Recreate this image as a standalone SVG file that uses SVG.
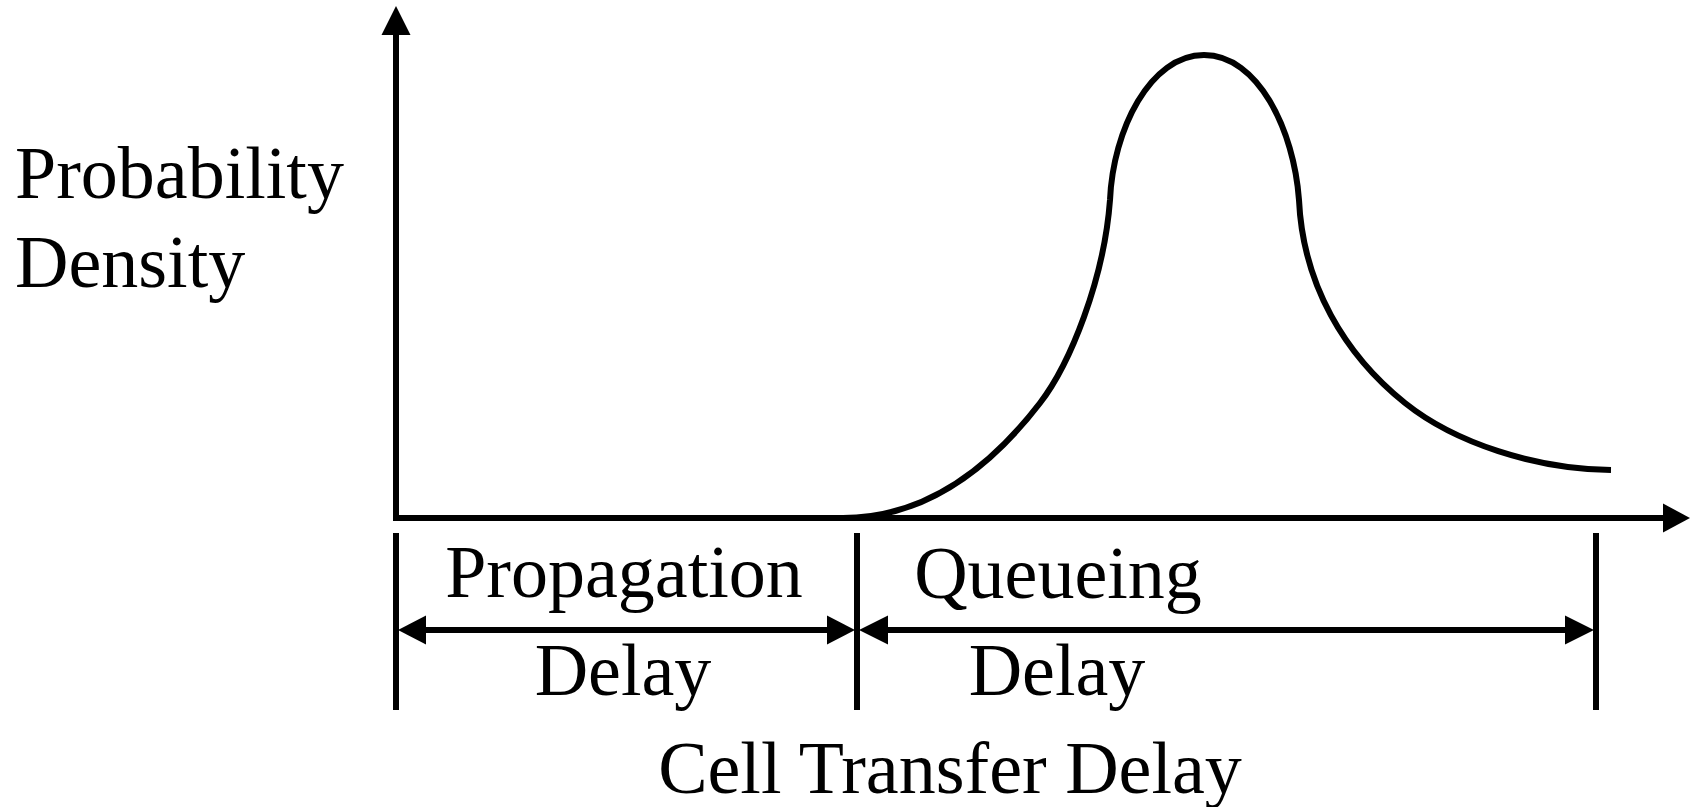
<svg xmlns="http://www.w3.org/2000/svg" width="1692" height="807" viewBox="0 0 1692 807">
  <style>
    .lbl { font-family: "Liberation Serif", "Times New Roman", serif; font-size: 74px; fill: #000; }
    .mid { text-anchor: middle; }
    .ln { fill: none; stroke: #000; stroke-width: 6; }
    .head { fill: #000; stroke: none; }
  </style>
  <rect width="1692" height="807" fill="#fff"/>

  <!-- axes -->
  <g id="axes">
    <path class="ln" d="M396,35 V518 H1663" stroke-linejoin="miter"/>
    <polygon class="head" points="396,6 381.5,35 410.5,35"/>
    <polygon class="head" points="1690,518 1663,503.5 1663,532.5"/>
  </g>

  <!-- density curve -->
  <g id="curve">
    <path class="ln" d="M843,518 C935,518 1000,455 1040,403 C1070,364 1104,280 1110,200 C1113,130 1150,55 1204,55 C1258,55 1294,130 1299,200 C1303,285 1345,355 1405,403 C1455,443 1535,469 1611,470"/>
  </g>

  <!-- axis labels -->
  <g id="y-label">
    <text class="lbl" x="15" y="198">Probability</text>
    <text class="lbl" x="15" y="287">Density</text>
  </g>
  <g id="x-label">
    <text class="lbl mid" x="950" y="793">Cell Transfer Delay</text>
  </g>

  <!-- interval markers -->
  <g id="ticks">
    <line class="ln" x1="396" y1="533" x2="396" y2="710"/>
    <line class="ln" x1="857" y1="533" x2="857" y2="710"/>
    <line class="ln" x1="1596" y1="533" x2="1596" y2="710"/>
  </g>

  <g id="connectors">
    <line class="ln" x1="420" y1="630" x2="834" y2="630"/>
    <polygon class="head" points="398,630 426,615.5 426,644.5"/>
    <polygon class="head" points="855,630 827,615.5 827,644.5"/>
    <line class="ln" x1="882" y1="630" x2="1571" y2="630"/>
    <polygon class="head" points="859,630 888,615.5 888,644.5"/>
    <polygon class="head" points="1594,630 1565,615.5 1565,644.5"/>
  </g>

  <g id="propagation">
    <text class="lbl mid" x="624" y="597">Propagation</text>
    <text class="lbl mid" x="623" y="695">Delay</text>
  </g>
  <g id="queueing">
    <text class="lbl mid" x="1058" y="598">Queueing</text>
    <text class="lbl mid" x="1057" y="695">Delay</text>
  </g>
</svg>
